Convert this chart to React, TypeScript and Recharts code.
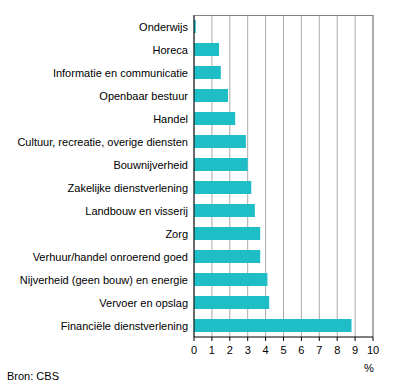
import React from 'react';
import { BarChart, Bar, XAxis, YAxis, CartesianGrid, ReferenceLine } from 'recharts';

const categories = [
  'Onderwijs',
  'Horeca',
  'Informatie en communicatie',
  'Openbaar bestuur',
  'Handel',
  'Cultuur, recreatie, overige diensten',
  'Bouwnijverheid',
  'Zakelijke dienstverlening',
  'Landbouw en visserij',
  'Zorg',
  'Verhuur/handel onroerend goed',
  'Nijverheid (geen bouw) en energie',
  'Vervoer en opslag',
  'Financiële dienstverlening',
];
const values = [0.1, 1.4, 1.5, 1.9, 2.3, 2.9, 3.0, 3.2, 3.4, 3.7, 3.7, 4.1, 4.2, 8.8];
const xTicks = [0, 1, 2, 3, 4, 5, 6, 7, 8, 9, 10];

const data = categories.map((name, i) => ({ name, value: values[i] }));

const FONT = 'Arial, "Liberation Sans", sans-serif';
const font = { fontFamily: FONT, fontSize: 11, fill: '#000' };

const CategoryTick = (props: any) => {
  const { x, y, payload } = props;
  return (
    <text x={x + 2} y={y} dy={4} textAnchor="end" fontFamily={FONT} fontSize={11} fill="#000">
      {payload.value}
    </text>
  );
};

export default function App() {
  return (
    <div style={{ position: 'absolute', left: 0, top: 0, width: 396, height: 387, background: '#fff', fontFamily: FONT }}>
      <BarChart
        width={396}
        height={387}
        data={data}
        layout="vertical"
        margin={{ top: 15, right: 23, bottom: 30, left: 0 }}
        barCategoryGap={5}
      >
        <CartesianGrid horizontal={false} stroke="#aaaaaa" strokeWidth={1} />
        <XAxis
          type="number"
          domain={[0, 10]}
          ticks={xTicks}
          interval={0}
          height={20}
          tick={font}
          tickSize={4}
          tickMargin={5}
          axisLine={{ stroke: '#000' }}
          tickLine={{ stroke: '#000' }}
        />
        <YAxis
          type="category"
          dataKey="name"
          width={194}
          interval={0}
          tick={<CategoryTick />}
          tickLine={false}
          axisLine={{ stroke: '#000' }}
        />
        <ReferenceLine x={10} stroke="#808080" />
        <Bar dataKey="value" fill="#1fbdc6" barSize={13} isAnimationActive={false} />
      </BarChart>
      <div style={{ position: 'absolute', left: 194, top: 15, width: 179, height: 1, background: '#808080' }} />
      <div style={{ position: 'absolute', left: 364, top: 362, fontSize: 11 }}>%</div>
      <div style={{ position: 'absolute', left: 7, top: 370, fontSize: 11 }}>Bron: CBS</div>
    </div>
  );
}
